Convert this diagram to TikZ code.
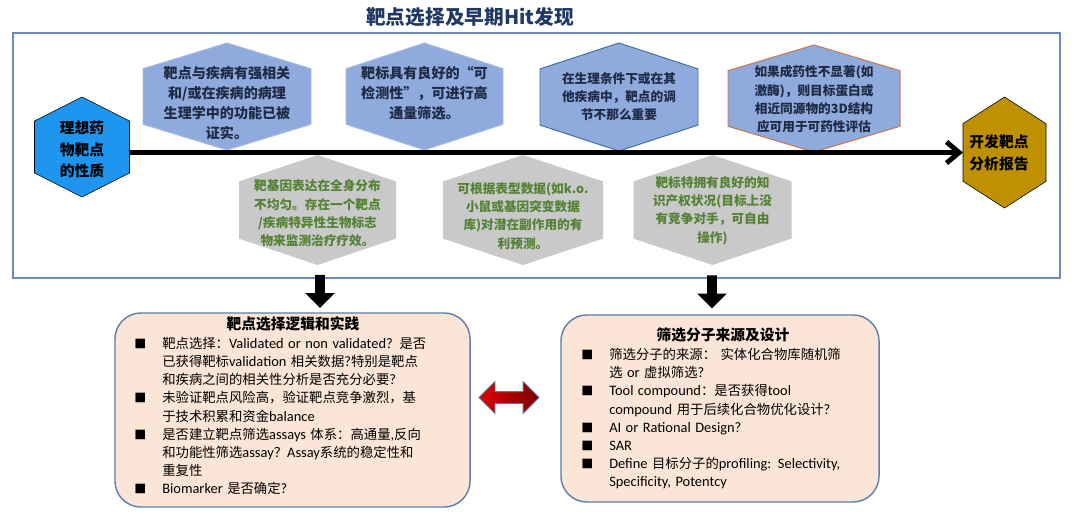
\documentclass[tikz,border=0pt]{standalone}
\usepackage{fontspec}
\setmainfont{Noto Sans CJK SC}
\newfontfamily\latin[Scale=1.08]{Carlito}
\usetikzlibrary{shapes.arrows,arrows.meta}

\definecolor{titleblue}{HTML}{203864}
\definecolor{frameline}{HTML}{6A8CBA}
\definecolor{hexblue}{HTML}{8FAADC}
\definecolor{hexedge}{HTML}{A9BDE2}
\definecolor{hexdark}{HTML}{41719C}
\definecolor{hexorange}{HTML}{C8764A}
\definecolor{hextext}{HTML}{1F2A44}
\definecolor{hexgray}{HTML}{C9C9C9}
\definecolor{hexgreen}{HTML}{548235}
\definecolor{startblue}{HTML}{1E96F0}
\definecolor{reportgold}{HTML}{BF9000}
\definecolor{boxfill}{HTML}{FBE5D6}
\definecolor{boxedge}{HTML}{5B7FA8}
\definecolor{linkred}{HTML}{E00000}
\definecolor{linkdark}{HTML}{7A0000}

\newcommand{\en}[1]{{\latin #1}}
\newcommand{\bul}{{\fontsize{8.5pt}{8.5pt}\selectfont ■}}
\newcommand{\itm}[1]{\noindent\hangindent=0.7cm\hangafter=1\makebox[0.7cm][l]{\bul}#1\par}
% hexagon with pointed top: name, style, cx, cy, half width, half height
\newcommand{\hexa}[6]{%
  \draw[#2] (#3-#5,#4-0.52*#6) -- (#3,#4-#6) -- (#3+#5,#4-0.52*#6)
    -- (#3+#5,#4+0.52*#6) -- (#3,#4+#6) -- (#3-#5,#4+0.52*#6) -- cycle;
  \coordinate (#1-w) at (#3-#5,#4);
  \coordinate (#1-e) at (#3+#5,#4);
}

\tikzset{
  tophex/.style={fill=hexblue, draw=hexedge, line width=0.7pt},
  lowhex/.style={fill=hexgray, draw=none},
  toptext/.style={align=center, text=hextext, font=\bfseries\fontsize{10}{14.2}\selectfont, inner sep=0pt},
  smalltext/.style={align=center, text=hextext, font=\bfseries\fontsize{9}{13}\selectfont, inner sep=0pt},
  lowtext/.style={align=center, text=hexgreen, font=\bfseries\fontsize{9}{13}\selectfont, inner sep=0pt},
  endtext/.style={align=center, text=black, font=\bfseries\fontsize{10.5}{15.2}\selectfont, inner sep=0pt},
  mainarrow/.style={line width=3.5pt, -{Straight Barb[length=9pt,width=15pt]}},
  downarrow/.style={single arrow, fill=black, inner sep=0.1125cm, minimum height=0.825cm,
    minimum width=0.43cm, shape border rotate=270},
  linkarrow/.style={double arrow, draw=boxedge, line width=0.6pt, left color=linkred, right color=linkdark,
    inner sep=0.1375cm, minimum height=1.5cm, minimum width=0.56cm},
  infobox/.style={draw=boxedge, fill=boxfill, line width=1pt, rounded corners=0.65cm},
  boxtitle/.style={font=\bfseries\fontsize{10.5}{13}\selectfont, inner sep=0pt},
  boxlist/.style={anchor=north west, align=left, text width=8.6cm, inner sep=0pt,
    font=\fontsize{9.5}{12.9}\selectfont}
}

\begin{document}
\begin{tikzpicture}[x=0.025cm, y=-0.025cm]
\useasboundingbox (0,0) rectangle (1080,519);

\node[font=\bfseries\fontsize{14}{16}\selectfont, text=titleblue] (title) at (470,17) {靶点选择及早期Hit发现};
\draw[frameline, line width=1pt] (13,33) rectangle (1060,278);

% hexagons along the line
\hexa{ideal}{fill=startblue}{82}{147}{47.5}{50}
\hexa{report}{fill=reportgold}{1004.5}{152.5}{41.5}{55.5}
\hexa{h1}{tophex}{227}{96.5}{84}{53.5}
\hexa{h2}{tophex}{424.5}{96.5}{78.5}{53.5}
\hexa{h3}{tophex, draw=hexdark}{619}{97}{79}{54}
\hexa{h4}{tophex, draw=hexorange}{814}{98.5}{86}{53.5}
\hexa{h5}{lowhex}{317.5}{210}{78.5}{55}
\hexa{h6}{lowhex}{523}{210}{80}{55}
\hexa{h7}{lowhex}{712.5}{210}{79}{55}

\node[endtext] (ideal) at (82,149.5) {理想药\\物靶点\\的性质};
\node[endtext] (report) at (999,153) {开发靶点\\分析报告};
\node[toptext] (h1) at (227,103) {靶点与疾病有强相关\\和/或在疾病的病理\\生理学中的功能已被\\证实。};
\node[toptext] (h2) at (424.5,93) {靶标具有良好的“可\\检测性”，可进行高\\通量筛选。};
\node[smalltext] (h3) at (619,96.5) {在生理条件下或在其\\他疾病中，靶点的调\\节不那么重要};
\node[smalltext] (h4) at (814,99.5) {如果成药性不显著(如\\激酶)，则目标蛋白或\\相近同源物的3D结构\\应可用于可药性评估};
\node[lowtext] (h5) at (317.5,213.5) {靶基因表达在全身分布\\不均匀。存在一个靶点\\/疾病特异性生物标志\\物来监测治疗疗效。};
\node[lowtext] (h6) at (523,216) {可根据表型数据(如k.o.\\小鼠或基因突变数据\\库)对潜在副作用的有\\利预测。};
\node[lowtext] (h7) at (712.5,210.5) {靶标特拥有良好的知\\识产权状况(目标上没\\有竞争对手，可自由\\操作)};

\draw[mainarrow] (ideal-e |- report-w) -- (report-w);

% boxes below
\node[downarrow] (down1) at (320,289) {};
\node[downarrow] (down2) at (712,289.5) {};
\node[infobox, minimum width=8.875cm, minimum height=4.85cm] (logic) at (292.5,410) {};
\node[infobox, minimum width=7.95cm, minimum height=4.675cm] (design) at (720,408.5) {};
\node[linkarrow] (link) at (509,397.5) {};

\node[boxtitle] (logictitle) at (293,324) {靶点选择逻辑和实践};
\node[boxlist] (logiclist) at (134,337) {%
\itm{靶点选择：\en{Validated or non validated?} 是否\newline 已获得靶标\en{validation} 相关数据\en{?}特别是靶点\newline 和疾病之间的相关性分析是否充分必要\en{?}}
\itm{未验证靶点风险高，验证靶点竞争激烈，基\newline 于技术积累和资金\en{balance}}
\itm{是否建立靶点筛选\en{assays} 体系：高通量\en{,}反向\newline 和功能性筛选\en{assay}？\en{Assay}系统的稳定性和\newline 重复性}
\itm{\en{Biomarker} 是否确定\en{?}}};

\node[boxtitle] (designtitle) at (723,335) {筛选分子来源及设计};
\node[boxlist] (designlist) at (581,348) {%
\itm{筛选分子的来源： 实体化合物库随机筛\newline 选 \en{or} 虚拟筛选\en{?}}
\itm{\en{Tool compound}：是否获得\en{tool}\newline \en{compound} 用于后续化合物优化设计\en{?}}
\itm{\en{AI or Rational Design?}}
\itm{\en{SAR}}
\itm{\en{Define} 目标分子的\en{profiling: Selectivity,}\newline \en{Specificity, Potentcy}}};
\end{tikzpicture}
\end{document}
